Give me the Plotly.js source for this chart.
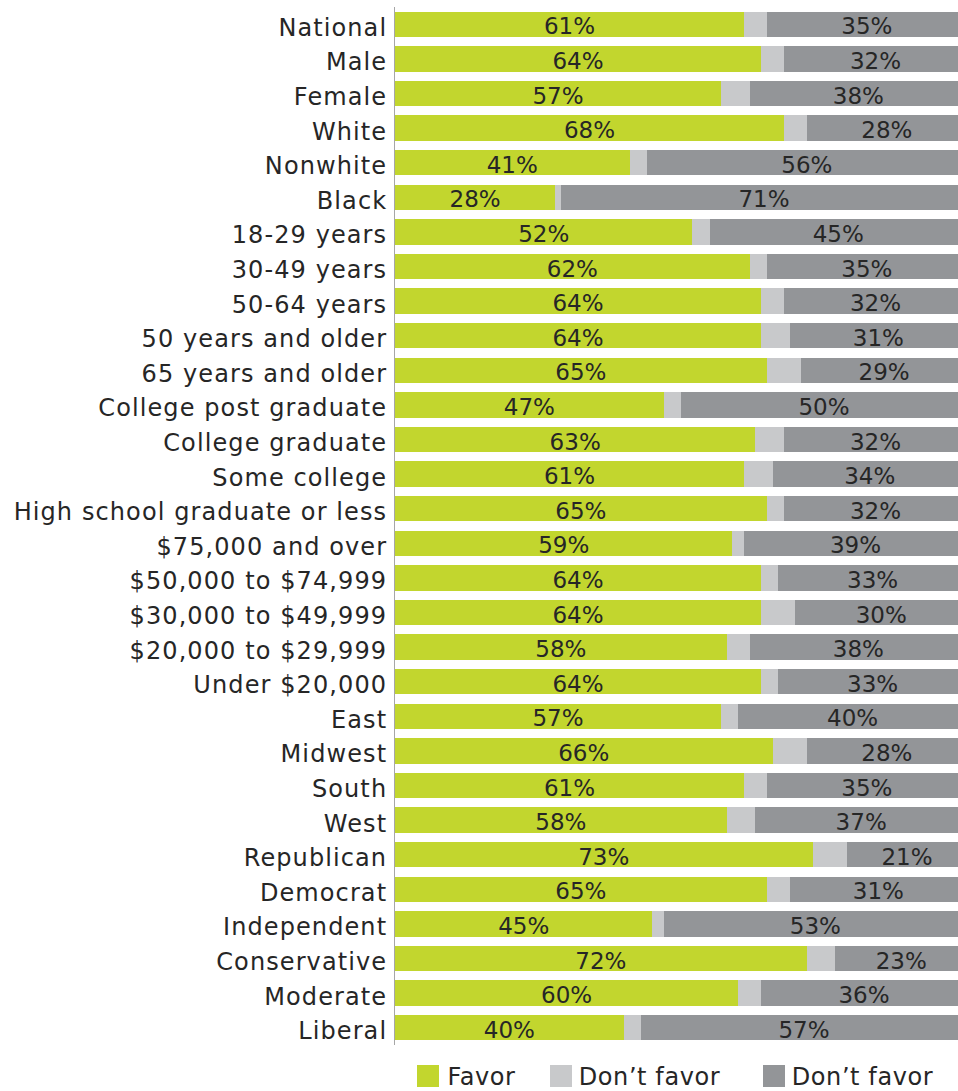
<!DOCTYPE html>
<html>
<head>
<meta charset="utf-8">
<script src="https://cdn.plot.ly/plotly-3.0.1.min.js"></script>
<style>
html,body{margin:0;padding:0;background:#fff;overflow:hidden;width:958px;height:1091px;}
#chart{width:967px;height:1091px;}
#chart .ytick text{letter-spacing:1.1px;translate:0 3px;}
#chart text.bartext{translate:0 2px;}
#chart .annotation-text{letter-spacing:0.6px;}
</style>
</head>
<body>
<div id="chart"></div>
<script>
const categories = ["National","Male","Female","White","Nonwhite","Black","18-29 years","30-49 years","50-64 years","50 years and older","65 years and older","College post graduate","College graduate","Some college","High school graduate or less","$75,000 and over","$50,000 to $74,999","$30,000 to $49,999","$20,000 to $29,999","Under $20,000","East","Midwest","South","West","Republican","Democrat","Independent","Conservative","Moderate","Liberal"];
const favor = [61,64,57,68,41,28,52,62,64,64,65,47,63,61,65,59,64,64,58,64,57,66,61,58,73,65,45,72,60,40];
const dontFavor = [35,32,38,28,56,71,45,35,32,31,29,50,32,34,32,39,33,30,38,33,40,28,35,37,21,31,53,23,36,57];
const middle = favor.map((f,i)=>100-f-dontFavor[i]);
const seriesNames = ["Favor","Don\u2019t favor","Don\u2019t favor"];
const colors = ["#c2d62e","#c8c9cb","#939598"];

const FONT = "DejaVu Sans, sans-serif";
const txtColor = "#262626";

const traces = [
  {type:'bar', orientation:'h', y:categories, x:favor, name:seriesNames[0],
   marker:{color:colors[0]}, text:favor.map(v=>v+'%'), textposition:'inside', insidetextanchor:'middle',
   constraintext:'none', textfont:{family:FONT,size:23,color:txtColor}, hoverinfo:'none'},
  {type:'bar', orientation:'h', y:categories, x:middle, name:seriesNames[1],
   marker:{color:colors[1]}, textposition:'none', hoverinfo:'none'},
  {type:'bar', orientation:'h', y:categories, x:dontFavor, name:seriesNames[2],
   marker:{color:colors[2]}, text:dontFavor.map(v=>v+'%'), textposition:'inside', insidetextanchor:'middle',
   constraintext:'none', textfont:{family:FONT,size:23,color:txtColor}, hoverinfo:'none'}
];

const L=395, R=0, T=7, B=46, W=967, H=1091;
const pw = W-L-R, ph = H-T-B;
const px2x = p => (p-L)/pw;
const py2y = p => (H-B-p)/ph;

const legendItems = [
  {sq:417, tx:448},
  {sq:550, tx:581},
  {sq:763, tx:794}
];
const shapes = [], annotations = [];
legendItems.forEach((it,i)=>{
  shapes.push({type:'rect', xref:'paper', yref:'paper', x0:px2x(it.sq), x1:px2x(it.sq+22), y0:py2y(1087), y1:py2y(1065), fillcolor:colors[i], line:{width:0}});
  annotations.push({xref:'paper', yref:'paper', x:px2x(it.tx), y:py2y(1077), xanchor:'left', yanchor:'middle', showarrow:false, borderpad:0, text:seriesNames[i], font:{family:FONT,size:24,color:txtColor}});
});

const layout = {
  width:W, height:H,
  margin:{l:L, r:R, t:T, b:B, pad:0},
  barmode:'stack', bargap:0.27,
  showlegend:false,
  paper_bgcolor:'#fff', plot_bgcolor:'#fff',
  xaxis:{range:[0,100], visible:false, fixedrange:true},
  yaxis:{autorange:'reversed', showline:true, linecolor:'#a6a6a6', linewidth:1, ticks:'outside', ticklen:2, tickcolor:'rgba(0,0,0,0)',
         tickfont:{family:FONT,size:24,color:txtColor}, showgrid:false, zeroline:false},
  shapes:shapes, annotations:annotations
};

Plotly.newPlot('chart', traces, layout, {displayModeBar:false, staticPlot:true});
</script>
</body>
</html>
